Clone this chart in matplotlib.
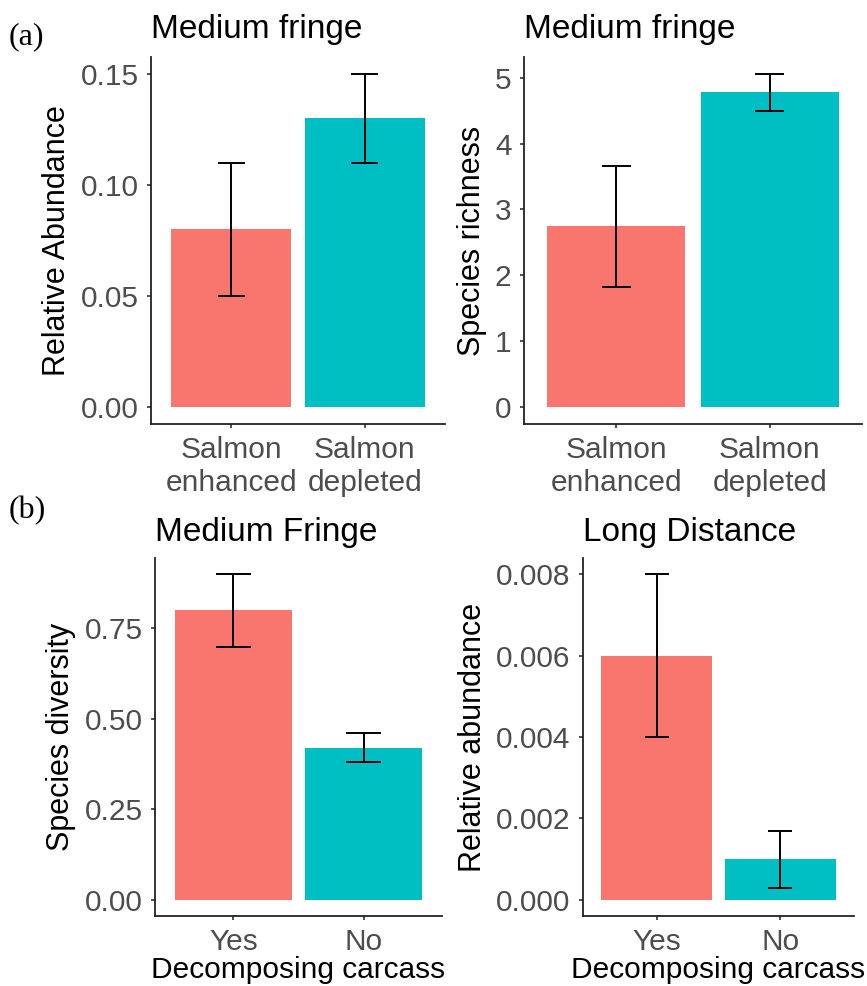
import matplotlib
matplotlib.use("Agg")
import matplotlib.pyplot as plt

plt.rcParams['font.family'] = ['Liberation Sans', 'DejaVu Sans']

colors = ["#F8766D", "#00BFC4"]

# (a) salmon enhanced vs depleted streams, medium fringe
salmon_groups = ["Salmon\nenhanced", "Salmon\ndepleted"]
abund_mean = [0.08, 0.13]
abund_lo = [0.05, 0.11]
abund_hi = [0.11, 0.15]
abund_ticks = [0.00, 0.05, 0.10, 0.15]
abund_ticklabels = ["0.00", "0.05", "0.10", "0.15"]

rich_mean = [2.75, 4.78]
rich_lo = [1.83, 4.50]
rich_hi = [3.66, 5.06]
rich_ticks = [0, 1, 2, 3, 4, 5]
rich_ticklabels = ["0", "1", "2", "3", "4", "5"]

# (b) decomposing carcass present or not
carcass_groups = ["Yes", "No"]
div_mean = [0.80, 0.42]
div_lo = [0.70, 0.38]
div_hi = [0.90, 0.46]
div_ticks = [0.00, 0.25, 0.50, 0.75]
div_ticklabels = ["0.00", "0.25", "0.50", "0.75"]

ld_mean = [0.006, 0.001]
ld_lo = [0.004, 0.0003]
ld_hi = [0.008, 0.0017]
ld_ticks = [0.000, 0.002, 0.004, 0.006, 0.008]
ld_ticklabels = ["0.000", "0.002", "0.004", "0.006", "0.008"]


def bar_panel(ax, groups, mean, lo, hi, ticks, ticklabels, title, ylabel,
              xlabel=None, cap=0.2, title_pad=14):
    x = list(range(1, len(groups) + 1))
    ax.bar(x, mean, width=0.9, color=colors, zorder=1)
    ax.vlines(x, lo, hi, color="black", linewidth=1.4, zorder=2)
    ax.hlines(lo, [v - cap / 2 for v in x], [v + cap / 2 for v in x],
              color="black", linewidth=1.4, zorder=2)
    ax.hlines(hi, [v - cap / 2 for v in x], [v + cap / 2 for v in x],
              color="black", linewidth=1.4, zorder=2)
    # ggplot-style 5% expansion on y, 0.6 units on discrete x
    top = max(hi)
    ax.set_ylim(-0.05 * top, 1.05 * top)
    ax.set_xlim(0.4, len(groups) + 0.6)
    ax.set_xticks(x)
    ax.set_xticklabels(groups)
    ax.set_yticks(ticks)
    ax.set_yticklabels(ticklabels)
    for s in ["top", "right"]:
        ax.spines[s].set_visible(False)
    for s in ["left", "bottom"]:
        ax.spines[s].set_linewidth(1.3)
        ax.spines[s].set_color("#222222")
    ax.tick_params(axis="both", labelsize=21.5, labelcolor="#4D4D4D",
                   length=3, width=1.2, color="#333333", pad=6)
    ax.set_title(title, loc="left", fontsize=24, pad=title_pad)
    ax.set_ylabel(ylabel, fontsize=22, labelpad=6)
    if xlabel:
        ax.set_xlabel(xlabel, fontsize=21.5, labelpad=0)


fig = plt.figure(figsize=(8.67, 9.86), dpi=100)
ax1 = fig.add_axes([0.1742, 0.5700, 0.3391, 0.3722])
ax2 = fig.add_axes([0.6044, 0.5700, 0.3899, 0.3722])
ax3 = fig.add_axes([0.1788, 0.0710, 0.3310, 0.3631])
ax4 = fig.add_axes([0.6724, 0.0710, 0.3126, 0.3631])

bar_panel(ax1, salmon_groups, abund_mean, abund_lo, abund_hi, abund_ticks,
          abund_ticklabels, "Medium fringe", "Relative Abundance")
bar_panel(ax2, salmon_groups, rich_mean, rich_lo, rich_hi, rich_ticks,
          rich_ticklabels, "Medium fringe", "Species richness", cap=0.19)
bar_panel(ax3, carcass_groups, div_mean, div_lo, div_hi, div_ticks,
          div_ticklabels, "Medium Fringe", "Species diversity",
          xlabel="Decomposing carcass", cap=0.27, title_pad=12)
bar_panel(ax4, carcass_groups, ld_mean, ld_lo, ld_hi, ld_ticks,
          ld_ticklabels, "Long Distance", "Relative abundance",
          xlabel="Decomposing carcass", cap=0.2, title_pad=12)

fig.text(0.010, 1 - 44 / 986, "(a)", family="Liberation Serif", fontsize=23,
         va="baseline", ha="left")
fig.text(0.010, 1 - 518 / 986, "(b)", family="Liberation Serif", fontsize=23,
         va="baseline", ha="left")

fig.savefig("out.png", dpi=100)
